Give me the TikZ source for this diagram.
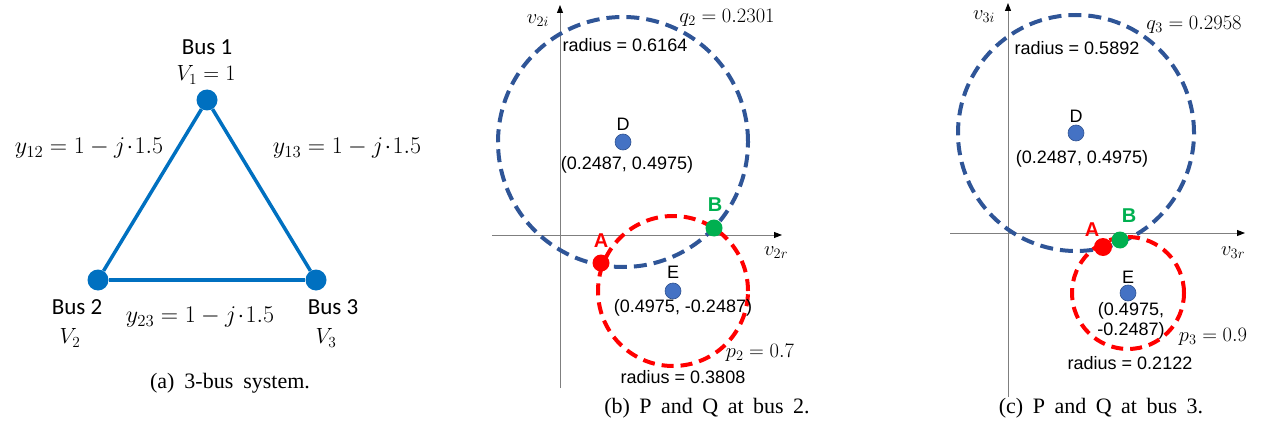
\RequirePackage{fix-cm}
\documentclass[tikz,border=0pt]{standalone}
\usepackage[no-math]{fontspec}
\setmainfont{Liberation Serif}
\newfontfamily\arialf{Liberation Sans}
\newfontfamily\calibf{Carlito}
\usetikzlibrary{arrows.meta}
\definecolor{busblue}{HTML}{0070C0}
\definecolor{cblue}{HTML}{2F5597}
\definecolor{cred}{HTML}{FF0000}
\definecolor{cgreen}{HTML}{00B050}
\definecolor{dotfill}{HTML}{4472C4}
\definecolor{dotdraw}{HTML}{2F528F}
\definecolor{axisgray}{HTML}{7F7F7F}
\begin{document}
\begin{tikzpicture}[x=1pt,y=-1pt,
  bus/.style={circle,fill=busblue,inner sep=0pt,minimum size=21pt},
  busline/.style={busblue,line width=3.5pt},
  lab/.style={font=\calibf\fontsize{23}{26}\selectfont, inner sep=0pt},
  mlab/.style={font=\fontsize{24}{26}\selectfont, inner sep=0pt},
  vlab/.style={font=\fontsize{22}{24}\selectfont, inner sep=0pt},
  captxt/.style={font=\fontsize{22}{24}\selectfont, inner sep=0pt},
  axisline/.style={axisgray, line width=0.9pt, -{Triangle[black,length=8pt,width=6pt]}},
  qcirc/.style={cblue, line width=4pt, dash pattern=on 13pt off 7pt},
  pcirc/.style={cred, line width=4pt, dash pattern=on 12pt off 7pt},
  ctr/.style={circle, fill=dotfill, draw=dotdraw, line width=0.6pt, inner sep=0pt, minimum size=16pt},
  ptdot/.style={circle, inner sep=0pt, minimum size=17pt},
  ptl/.style={font=\arialf\bfseries\fontsize{20}{22}\selectfont, inner sep=0pt},
  atxt/.style={font=\arialf\fontsize{18}{20}\selectfont, inner sep=0pt},
  gm/.style={font=\fontsize{20.5}{22}\selectfont, inner sep=0pt},
]
\useasboundingbox (0,0) rectangle (1265,433);

% ---------------- (a) 3-bus system
\node[bus] (bus1) at (207,100) {};
\node[bus] (bus2) at (98,280) {};
\node[bus] (bus3) at (316,280) {};
\draw[busline] (bus1) -- (bus2);
\draw[busline] (bus1) -- (bus3);
\draw[busline] (bus2) -- (bus3);
\node[lab] (b1name) at (207,47) {Bus 1};
\node[vlab] (b1v) at (206,75) {$V_1=1$};
\node[mlab] (y12) at (89,148) {$y_{12}=1-j\!\cdot\!1.5$};
\node[mlab] (y13) at (347,148) {$y_{13}=1-j\!\cdot\!1.5$};
\node[lab] (b2name) at (77,307) {Bus 2};
\node[vlab] (b2v) at (70,338) {$V_2$};
\node[mlab] (y23) at (200,317) {$y_{23}=1-j\!\cdot\!1.5$};
\node[lab] (b3name) at (333,307) {Bus 3};
\node[vlab] (b3v) at (326,338) {$V_3$};
\node[captxt] (capa) at (230,383) {\spaceskip=10pt (a) 3-bus system.};

% ---------------- (b) bus 2
\coordinate (bxl) at (492,235);
\coordinate (bxr) at (782,235);
\coordinate (byb) at (560,388);
\coordinate (byt) at (560,5);
\draw[axisline] (bxl) -- (bxr);
\draw[axisline] (byb) -- (byt);
\node[gm] (bvi) at (538,21) {$v_{2i}$};
\node[gm] (bvr) at (776,253) {$v_{2r}$};
\draw[qcirc] (623,142) circle (125pt);
\draw[pcirc] (673,291) circle (75pt);
\node[ctr] (bD) at (623,142) {};
\node[ctr] (bE) at (673,291) {};
\node[atxt] (bDl) at (623,124) {D};
\node[atxt] (bDc) at (627,165) {(0.2487, 0.4975)};
\node[atxt] (bEl) at (673,272) {E};
\node[atxt] (bEc) at (683,308) {(0.4975, -0.2487)};
\node[atxt] (bqr) at (625,45) {radius = 0.6164};
\node[gm] (bq) at (727,18) {$q_2=0.2301$};
\node[gm] (bp) at (760,353) {$p_2=0.7$};
\node[atxt] (bpr) at (683,377) {radius = 0.3808};
\node[ptdot, fill=cred] (bA) at (601,263) {};
\node[ptdot, fill=cgreen] (bB) at (714,228) {};
\node[ptl, text=cred] (bAl) at (601,241) {A};
\node[ptl, text=cgreen] (bBl) at (715,205) {B};
\node[captxt] (capb) at (707,408) {\spaceskip=9.5pt (b) P and Q at bus 2.};

% ---------------- (c) bus 3
\coordinate (cxl) at (950,233);
\coordinate (cxr) at (1245,233);
\coordinate (cyb) at (1008,397);
\coordinate (cyt) at (1008,3);
\draw[axisline] (cxl) -- (cxr);
\draw[axisline] (cyb) -- (cyt);
\node[gm] (cvi) at (984,17) {$v_{3i}$};
\node[gm] (cvr) at (1233,253) {$v_{3r}$};
\draw[qcirc] (1076,133) circle (118pt);
\draw[pcirc] (1128,293) circle (56pt);
\node[ctr] (cD) at (1076,133) {};
\node[ctr] (cE) at (1128,293) {};
\node[atxt] (cDl) at (1076,116) {D};
\node[atxt] (cDc) at (1082,159) {(0.2487, 0.4975)};
\node[atxt] (cEl) at (1128,277) {E};
\node[atxt, align=center] (cEc) at (1131,321) {(0.4975,\\-0.2487)};
\node[atxt] (cqr) at (1077,48) {radius = 0.5892};
\node[gm] (cq) at (1194,25) {$q_3=0.2958$};
\node[gm] (cp) at (1213,337) {$p_3=0.9$};
\node[atxt] (cpr) at (1130,363) {radius = 0.2122};
\node[ptdot, fill=cred, minimum size=18pt] (cA) at (1103,247) {};
\node[ptdot, fill=cgreen] (cB) at (1120,240) {};
\node[ptl, text=cred] (cAl) at (1092,230) {A};
\node[ptl, text=cgreen] (cBl) at (1129,216) {B};
\node[captxt] (capc) at (1101,408) {\spaceskip=9.5pt (c) P and Q at bus 3.};
\end{tikzpicture}
\end{document}
